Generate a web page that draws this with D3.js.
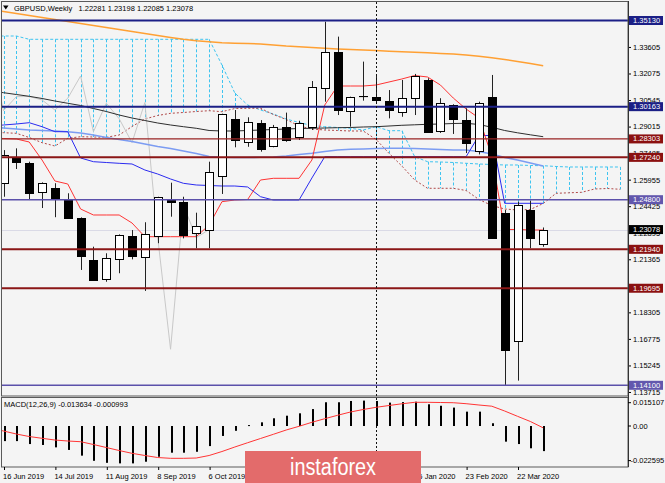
<!DOCTYPE html>
<html>
<head>
<meta charset="utf-8">
<script src="https://cdn.jsdelivr.net/npm/d3@7/dist/d3.min.js"></script>
<style>
  html, body { margin:0; padding:0; background:#f4f4f4; overflow:hidden; }
  svg { display:block; }
  text { font-family: "Liberation Sans", Arial, sans-serif; }
</style>
</head>
<body>
<svg id="chart" width="665" height="483"></svg>
<script>
// ---------------- DATA ----------------
const weeks = ["2019-06-09","2019-06-16","2019-06-23","2019-06-30","2019-07-07","2019-07-14","2019-07-21","2019-07-28","2019-08-04","2019-08-11",
  "2019-08-18","2019-08-25","2019-09-01","2019-09-08","2019-09-15","2019-09-22","2019-09-29","2019-10-06","2019-10-13","2019-10-20",
  "2019-10-27","2019-11-03","2019-11-10","2019-11-17","2019-11-24","2019-12-01","2019-12-08","2019-12-15","2019-12-22","2019-12-29",
  "2020-01-05","2020-01-12","2020-01-19","2020-01-26","2020-02-02","2020-02-09","2020-02-16","2020-02-23","2020-03-01","2020-03-08",
  "2020-03-15","2020-03-22","2020-03-29","2020-04-05","2020-04-12","2020-04-19","2020-04-26","2020-05-03","2020-05-10","2020-05-17"];

const open  = [null,1.2578,1.2724,1.2690,1.2523,1.2549,1.2484,1.2373,1.2132,1.2023,1.2138,1.2271,1.2151,1.2272,1.2478,1.2465,1.2290,1.2305,1.2618,1.2943,1.2811,1.2920,1.2790,1.2901,1.2843,1.2897,1.3122,1.3330,1.2993,1.3077,1.3074,1.3051,1.2984,1.3065,1.3170,1.2872,1.3026,1.2939,1.2761,1.3074,1.2405,1.1665,1.2421,1.22281];
const high  = [null,1.2766,1.2776,1.2699,1.2580,1.2575,1.2517,1.2378,1.2209,1.2171,1.2280,1.2305,1.2350,1.2497,1.2578,1.2497,1.2405,1.2699,1.2976,1.2997,1.2955,1.2939,1.2911,1.2982,1.2935,1.3164,1.3506,1.3420,1.3074,1.3276,1.3199,1.3112,1.3170,1.3205,1.3180,1.3065,1.3030,1.3007,1.3045,1.3199,1.2421,1.2468,1.2474,1.23198];
const low   = [null,1.2497,1.2657,1.2478,1.2432,1.2379,1.2370,1.2075,1.2015,1.2007,1.2056,1.2136,1.1954,1.2229,1.2382,1.2257,1.2200,1.2200,1.2513,1.2782,1.2785,1.2757,1.2782,1.2814,1.2824,1.2882,1.3045,1.2968,1.2901,1.3051,1.3037,1.2949,1.2958,1.2968,1.2868,1.2865,1.2859,1.2749,1.2741,1.2257,1.1412,1.1437,1.2200,1.22085];
const close = [null,1.2738,1.2693,1.2517,1.2575,1.2492,1.2373,1.2155,1.2017,1.2142,1.2277,1.2155,1.2281,1.2494,1.2467,1.2277,1.2330,1.2641,1.2974,1.2820,1.2926,1.2771,1.2897,1.2828,1.2924,1.3128,1.3330,1.2993,1.3074,1.3075,1.3055,1.2997,1.3065,1.3193,1.2872,1.3036,1.2947,1.2809,1.3040,1.2263,1.1618,1.2449,1.2261,1.23078];

const tenkan = [1.28356,1.28328,1.28299,1.28126,1.27088,1.25878,1.25705,1.24264,1.23918,1.23918,
  1.23918,1.23457,1.22667,1.22667,1.22667,1.22667,1.22667,1.23341,1.24684,1.24782,
  1.24811,1.25935,1.26033,1.26033,1.26033,1.27088,1.30259,1.31354,1.31354,1.31354,
  1.31412,1.31585,1.31758,1.31959,1.31873,1.31412,1.30662,1.30028,1.29509,1.27319,
  1.23082,1.23082,1.23053,1.23053];
const kijun = [1.29048,1.29106,1.29164,1.29239,1.29008,1.28720,1.28720,1.27204,1.26990,1.26944,
  1.26898,1.26858,1.26512,1.26281,1.25993,1.25745,1.25647,1.25618,1.25589,1.25589,
  1.25532,1.24973,1.24782,1.24782,1.24782,1.26051,1.27278,1.27278,1.27278,1.27278,
  1.27278,1.27278,1.27278,1.27278,1.27278,1.27278,1.27278,1.27278,1.28501,1.28501,
  1.24592,1.24592,1.24592,1.24592];
const spanA = [1.28662,1.28662,1.28627,1.28385,1.28086,1.27895,1.28339,1.28431,1.28414,1.28397,
  1.28529,1.29019,1.29452,1.29654,1.29780,1.29826,1.29884,1.29930,1.29873,1.30057,
  1.30069,1.30069,1.29711,1.29423,1.29048,1.28875,1.28818,1.28789,1.28760,1.28760,
  1.28270,1.27474,1.26742,1.25935,1.25457,1.25457,1.25457,1.25330,1.24811,1.24465,
  1.24264,1.24206,1.24235,1.24581,1.25169,1.25197,1.25226,1.25417,1.25445,1.25399];
const spanB = [1.34236,1.34236,1.34236,1.34046,1.34046,1.34046,1.34046,1.34046,1.34046,1.34046,
  1.34046,1.34046,1.34046,1.34046,1.34046,1.34046,1.34046,1.34046,1.32565,1.30951,
  1.30259,1.29971,1.29740,1.29452,1.29250,1.29077,1.29008,1.28962,1.28916,1.28818,
  1.29008,1.28777,1.28777,1.27278,1.26990,1.26973,1.26944,1.26898,1.26858,1.26829,
  1.26800,1.26800,1.26771,1.26760,1.26714,1.26685,1.26685,1.26685,1.26685,1.26685];

const maBlack = [1.31066,1.30968,1.30864,1.30760,1.30634,1.30489,1.30357,1.30230,1.30057,1.29884,
  1.29682,1.29509,1.29365,1.29221,1.29106,1.29008,1.28916,1.28789,1.28760,1.28760,
  1.28789,1.28818,1.28846,1.28875,1.28904,1.28916,1.28933,1.28950,1.28962,1.28991,
  1.29008,1.29048,1.29089,1.29117,1.29146,1.29164,1.29192,1.29204,1.29135,1.28974,
  1.28789,1.28656,1.28541,1.28431];
const maBlue = [1.28991,1.28933,1.28875,1.28818,1.28789,1.28760,1.28720,1.28645,1.28529,1.28385,
  1.28270,1.28155,1.28010,1.27866,1.27751,1.27607,1.27463,1.27290,1.27244,1.27232,
  1.27232,1.27244,1.27261,1.27319,1.27405,1.27474,1.27578,1.27665,1.27705,1.27722,
  1.27751,1.27763,1.27763,1.27751,1.27722,1.27694,1.27665,1.27665,1.27578,1.27434,
  1.27232,1.27088,1.26915,1.26742];
const maOrange = [1.35735,1.35649,1.35534,1.35418,1.35303,1.35188,1.35072,1.34957,1.34842,1.34726,
  1.34611,1.34496,1.34381,1.34265,1.34150,1.34046,1.33960,1.33902,1.33844,1.33816,
  1.33804,1.33775,1.33718,1.33660,1.33620,1.33574,1.33527,1.33487,1.33458,1.33429,
  1.33395,1.33360,1.33326,1.33297,1.33268,1.33228,1.33199,1.33141,1.33066,1.32980,
  1.32882,1.32766,1.32651,1.32524];

const macdMain = [null,-0.0082,-0.0082,-0.0098,-0.0103,-0.0116,-0.0130,-0.0161,-0.0189,-0.0200,-0.0203,
  -0.0203,-0.0194,-0.0167,-0.0145,-0.0145,-0.0140,-0.0109,-0.0054,-0.0026,0.0005,
  0.0020,0.0042,0.0056,0.0069,0.0092,0.0129,0.0129,0.0136,0.0138,0.0136,
  0.0127,0.0130,0.0132,0.0118,0.0110,0.0100,0.0078,0.0078,0.0015,-0.0085,
  -0.0098,-0.0121,-0.013634];
const macdSignal = [-0.0010,-0.00272,-0.00435,-0.00571,-0.00668,-0.00761,-0.00815,-0.00853,-0.01005,-0.01168,
  -0.01332,-0.01484,-0.01603,-0.01712,-0.01755,-0.01755,-0.01739,-0.01603,-0.01386,-0.01141,
  -0.00908,-0.00679,-0.00451,-0.00217,-0.00016,0.00201,0.00397,0.00582,0.00761,0.00897,
  0.01016,0.01114,0.01207,0.01288,0.01288,0.01277,0.01266,0.01212,0.01141,0.01076,
  0.00815,0.00527,0.00245,-0.000993];
const macdAxisValues = [0.015107, 0, -0.022595];
const macdAxisLabels = ["0.015107", "0.00", "-0.022595"];

const priceTicks = [1.33605,1.32075,1.30545,1.29015,1.27485,1.25955,1.24425,1.22895,1.21365,1.19835,1.18305,1.16775,1.15245,1.13715];
const levelValues = [1.35130, 1.30163, 1.28303, 1.27240, 1.24800, 1.21940, 1.19695, 1.14100];
const levelKinds  = ["navy", "navy", "maroonThin", "maroon", "violet", "maroon", "maroon", "violet"];
const xLabelWeeks = ["2019-06-16","2019-07-14","2019-08-11","2019-09-08","2019-10-06","2019-11-03","2019-12-01","2019-12-29","2020-01-26","2020-02-23","2020-03-22"];
const markerWeek = "2020-01-05";
const chikouShift = 26;
const symbolTitle = "GBPUSD,Weekly";
const macdTitle = "MACD(12,26,9) -0.013634 -0.000993";

// ---------------- LAYOUT ----------------
const W = 665, H = 483;
const plot = {left: 2, right: 628, top: 2, bottom: 396};
const macdP = {top: 397.5, bottom: 467};

const parse = d3.utcParse("%Y-%m-%d");
const dates = weeks.map(parse);
const lastIdx = close.length - 1;

const x = d3.scaleUtc().domain([dates[1], dates[lastIdx]]).range([3.5, 543.2]);
const y = d3.scaleLinear().domain([1.14100, 1.35130]).range([385.3, 20.5]);
const yM = d3.scaleLinear().domain([-0.022595, 0.015107]).range([467.6, 398.2]);
const px = d => Math.round(x(d));

const levelStyle = {
  navy:       {line: "#1b1f86", width: 2,   box: "#1b1f86"},
  maroon:     {line: "#8b1616", width: 2,   box: "#8b1010"},
  maroonThin: {line: "#9a2424", width: 1.2, box: "#8b1010"},
  violet:     {line: "#5b50aa", width: 1.6, box: "#6257ad"}
};

const svg = d3.select("#chart");
svg.append("rect").attr("width", W).attr("height", H).attr("fill", "#f4f4f4");

const defs = svg.append("defs");
defs.append("clipPath").attr("id", "clipMain").append("rect")
  .attr("x", plot.left).attr("y", plot.top).attr("width", plot.right - plot.left).attr("height", plot.bottom - plot.top);
defs.append("clipPath").attr("id", "clipMacd").append("rect")
  .attr("x", plot.left).attr("y", macdP.top).attr("width", plot.right - plot.left).attr("height", macdP.bottom - macdP.top);

const g = svg.append("g").attr("clip-path", "url(#clipMain)");

// bid line
g.append("line").attr("x1", plot.left).attr("x2", plot.right)
  .attr("y1", Math.round(y(close[lastIdx])) + 0.5).attr("y2", Math.round(y(close[lastIdx])) + 0.5)
  .attr("stroke", "#dadae6").attr("stroke-width", 1);

// cloud hatch
const cloud = dates.map((d, i) => ({d, a: spanA[i], b: spanB[i]})).filter(p => p.a != null && p.b != null);
g.append("g").selectAll("line").data(cloud).join("line")
  .attr("x1", p => px(p.d) + 0.5).attr("x2", p => px(p.d) + 0.5)
  .attr("y1", p => y(p.b)).attr("y2", p => y(p.a))
  .attr("stroke", p => p.b >= p.a ? "#3ec4f0" : "#c07a7a")
  .attr("stroke-width", 1).attr("stroke-dasharray", "3,2");

function series(arr) { return arr.map((v, i) => ({d: dates[i], v})).filter(p => p.v != null); }
const lineGen = d3.line().x(p => x(p.d)).y(p => y(p.v));
function drawLine(data, color, width, dash) {
  g.append("path").datum(data).attr("d", lineGen).attr("fill", "none")
    .attr("stroke", color).attr("stroke-width", width)
    .attr("stroke-dasharray", dash || null).attr("stroke-linejoin", "round");
}

drawLine(series(spanB), "#3ec4f0", 1, "3,2");
drawLine(series(spanA), "#b04848", 1, "2,2");
// chikou span: closes shifted back
const chikou = dates.slice(0, lastIdx - chikouShift + 1).map((d, i) => ({d, v: close[i + chikouShift]})).filter(p => p.v != null);
drawLine(chikou, "#c8c8c8", 1);
drawLine(series(maOrange), "#ffa033", 1.5);
drawLine(series(maBlack), "#2e2e2e", 1);
drawLine(series(maBlue), "#7c9cf2", 1.6);
drawLine(series(kijun), "#2b2bf0", 1);
drawLine(series(tenkan), "#ff3434", 1);

// candles
const candles = d3.range(1, lastIdx + 1).map(i => ({d: dates[i], o: open[i], h: high[i], l: low[i], c: close[i]}));
const cg = g.append("g");
cg.selectAll("line").data(candles).join("line")
  .attr("x1", c => px(c.d) + 0.5).attr("x2", c => px(c.d) + 0.5)
  .attr("y1", c => y(c.h)).attr("y2", c => y(c.l))
  .attr("stroke", "#222").attr("stroke-width", 1);
cg.selectAll("rect").data(candles).join("rect")
  .attr("x", c => px(c.d) - 3.5).attr("width", 8)
  .attr("y", c => Math.round(y(Math.max(c.o, c.c))) + 0.5)
  .attr("height", c => Math.max(0.1, Math.round(Math.abs(y(c.o) - y(c.c)))))
  .attr("fill", c => c.c >= c.o ? "#ffffff" : "#000000")
  .attr("stroke", "#000").attr("stroke-width", 1);

// level lines
levelValues.forEach((v, i) => {
  const s = levelStyle[levelKinds[i]];
  g.append("line").attr("x1", plot.left).attr("x2", plot.right)
    .attr("y1", y(v)).attr("y2", y(v))
    .attr("stroke", s.line).attr("stroke-width", s.width);
});

// frames
svg.append("rect").attr("x", 1.5).attr("y", 1.5).attr("width", plot.right - 1.5).attr("height", plot.bottom - 1.5)
  .attr("fill", "none").attr("stroke", "#5a5a5a");
svg.append("rect").attr("x", 1.5).attr("y", macdP.top).attr("width", plot.right - 1.5).attr("height", macdP.bottom - macdP.top)
  .attr("fill", "none").attr("stroke", "#5a5a5a");

// vertical marker
const mx = px(parse(markerWeek)) + 0.5;
svg.append("line").attr("x1", mx).attr("x2", mx).attr("y1", plot.top).attr("y2", macdP.bottom)
  .attr("stroke", "#111").attr("stroke-width", 1).attr("stroke-dasharray", "2,2");

// right price axis
const axR = d3.axisRight(y).tickValues(priceTicks).tickSize(3).tickPadding(2).tickFormat(d3.format(".5f"));
const gR = svg.append("g").attr("transform", `translate(${plot.right},0)`).call(axR);
gR.select(".domain").remove();
gR.selectAll("line").attr("stroke", "#000");
gR.selectAll("text").attr("font-size", 7.5).attr("fill", "#000")
  .attr("font-family", "'Liberation Sans', Arial, sans-serif");

// level label boxes
const boxes = levelValues.map((v, i) => ({v, fill: levelStyle[levelKinds[i]].box}))
  .concat([{v: close[lastIdx], fill: "#000000"}]);
const gB = svg.append("g");
boxes.forEach(b => {
  const yy = y(b.v);
  gB.append("rect").attr("x", plot.right + 1).attr("y", yy - 4.5).attr("width", 34).attr("height", 9).attr("fill", b.fill);
  gB.append("text").attr("x", plot.right + 5).attr("y", yy).attr("dy", "0.34em")
    .attr("font-size", 7.5).attr("fill", "#fff").text(d3.format(".5f")(b.v));
});
svg.append("line").attr("x1", plot.right + 0.5).attr("x2", plot.right + 0.5).attr("y1", 1).attr("y2", macdP.bottom)
  .attr("stroke", "#333");

// ---------------- MACD ----------------
const gm = svg.append("g").attr("clip-path", "url(#clipMacd)");
const hist = macdMain.map((v, i) => ({d: dates[i], v})).filter(p => p.v != null);
gm.selectAll("rect").data(hist).join("rect")
  .attr("x", p => px(p.d)).attr("width", 2)
  .attr("y", p => Math.min(yM(0), yM(p.v)))
  .attr("height", p => Math.max(1, Math.abs(yM(p.v) - yM(0))))
  .attr("fill", "#000");
const sigLine = d3.line().x(p => x(p.d)).y(p => yM(p.v));
gm.append("path").datum(macdSignal.map((v, i) => ({d: dates[i], v})))
  .attr("d", sigLine).attr("fill", "none").attr("stroke", "#ff3434").attr("stroke-width", 1);

svg.append("text").attr("x", 4).attr("y", 406.5).attr("font-size", 7.5).attr("fill", "#000").text(macdTitle);

const macdLabelY = [yM(macdAxisValues[0]) + 4.5, yM(macdAxisValues[1]), yM(macdAxisValues[2]) - 7];
const gMA = svg.append("g");
macdAxisValues.forEach((v, i) => {
  gMA.append("line").attr("x1", plot.right).attr("x2", plot.right + 3)
    .attr("y1", macdLabelY[i]).attr("y2", macdLabelY[i]).attr("stroke", "#000");
  gMA.append("text").attr("x", plot.right + (v < 0 ? 2.5 : 5)).attr("y", macdLabelY[i]).attr("dy", "0.34em")
    .attr("font-size", 7.5).attr("fill", "#000").text(macdAxisLabels[i]);
});

// ---------------- X AXIS ----------------
const fmt = d3.utcFormat("%-d %b %Y");
const axB = d3.axisBottom(x).tickValues(xLabelWeeks.map(parse)).tickFormat(fmt).tickSize(3).tickPadding(2);
const gX = svg.append("g").attr("transform", `translate(0.5,${macdP.bottom})`).call(axB);
gX.select(".domain").remove();
gX.selectAll("line").attr("stroke", "#000");
gX.selectAll("text").attr("font-size", 7.5).attr("fill", "#000").attr("text-anchor", "start")
  .attr("x", -1.5).attr("dy", "0.9em")
  .attr("font-family", "'Liberation Sans', Arial, sans-serif");

// ---------------- TITLE ----------------
svg.append("path").attr("d", "M3,5.5 L8.5,5.5 L5.75,9.5 Z").attr("fill", "#000");
svg.append("text").attr("x", 14).attr("y", 10.5).attr("font-size", 7.5).attr("fill", "#000").text(symbolTitle);
svg.append("text").attr("x", 78.5).attr("y", 10.5).attr("font-size", 7.5).attr("fill", "#000")
  .text([open[lastIdx], high[lastIdx], low[lastIdx], close[lastIdx]].map(d3.format(".5f")).join(" "));

// ---------------- WATERMARK ----------------
svg.append("rect").attr("x", 245).attr("y", 451).attr("width", 176).attr("height", 32).attr("fill", "#e36b6b");
svg.append("text").attr("x", 333).attr("y", 474.5).attr("text-anchor", "middle")
  .attr("font-family", "'Open Sans', 'Liberation Sans', sans-serif").attr("font-size", 23)
  .attr("fill", "#ffffff").attr("textLength", 86).attr("lengthAdjust", "spacingAndGlyphs")
  .text("instaforex");
</script>
</body>
</html>
